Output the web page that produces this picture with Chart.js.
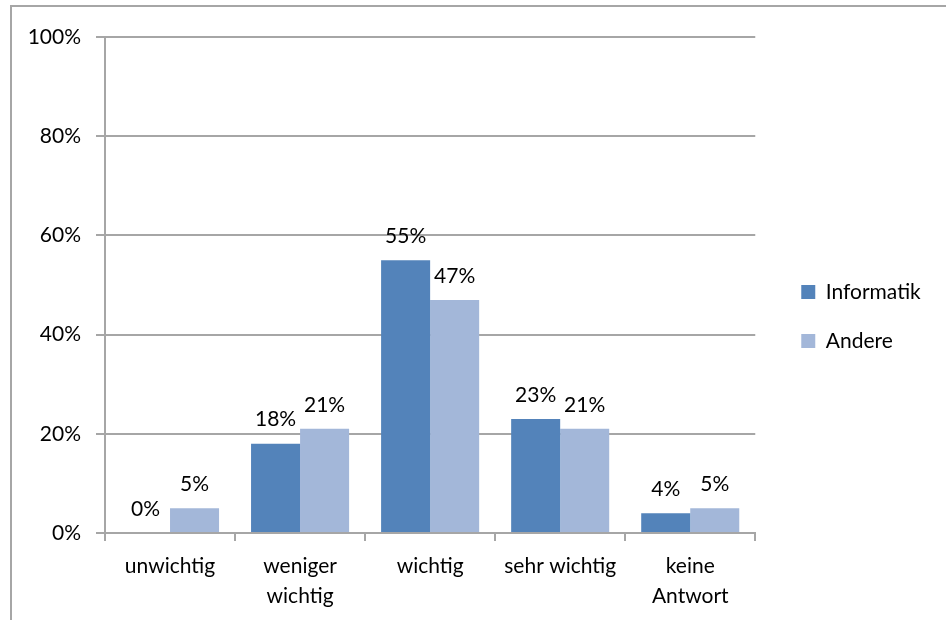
<!DOCTYPE html>
<html>
<head>
<meta charset="utf-8">
<script src="https://cdn.jsdelivr.net/npm/chart.js@4/dist/chart.umd.min.js"></script>
<style>
  html,body{margin:0;padding:0;background:#fff;overflow:hidden}
  #frame{position:absolute;left:10px;top:5px;width:934px;height:613px;border:2px solid #a6a6a6;border-right:none;border-bottom:none}
  #frame canvas{display:block}
</style>
</head>
<body>
<div id="frame"><canvas id="ch"></canvas></div>
<script>
/* ---------- Daten ---------- */
const categories=['unwichtig',['weniger','wichtig'],'wichtig','sehr wichtig',['keine','Antwort']];
const informatik=[0,18,55,23,4];
const andere=[5,21,47,21,5];
const yTicks=[0,20,40,60,80,100];

const FONT={family:'Lato, "Open Sans", sans-serif',size:21};
const GRID='#a6a6a6';

/* Legendenbreite messen, damit die Plotfläche rechts bei ~743px endet */
const mctx=document.createElement('canvas').getContext('2d');
mctx.font=`${FONT.size}px ${FONT.family}`;
const tw=Math.max(mctx.measureText('Informatik').width,mctx.measureText('Andere').width);
const LPAD=28;
const legendW=LPAD+14+FONT.size/2+tw+10;
const padRight=Math.max(0,934-761-legendW)+5;

/* Werte über den Balken */
const valueLabels={
  id:'valueLabels',
  afterDatasetsDraw(chart){
    const ctx=chart.ctx;
    ctx.save();
    ctx.font=`${FONT.size}px ${FONT.family}`;
    ctx.fillStyle='#000';
    ctx.textAlign='center';
    ctx.textBaseline='middle';
    chart.data.datasets.forEach((ds,i)=>{
      chart.getDatasetMeta(i).data.forEach((bar,j)=>{
        ctx.fillText(ds.data[j]+'%',bar.x,bar.y-24);
      });
    });
    ctx.restore();
  }
};

new Chart(document.getElementById('ch'),{
  type:'bar',
  data:{labels:categories,datasets:[
    {label:'Informatik',data:informatik,backgroundColor:'#5383ba',borderWidth:0,categoryPercentage:0.754,barPercentage:1},
    {label:'Andere',data:andere,backgroundColor:'#a3b7d9',borderWidth:0,categoryPercentage:0.754,barPercentage:1}
  ]},
  options:{
    responsive:true,maintainAspectRatio:false,animation:false,
    layout:{padding:{top:6,left:0,right:padRight,bottom:0}},
    plugins:{
      // leerer Titel nur als Abstand oberhalb der Plotfläche
      title:{display:true,text:' ',fullSize:false,padding:0,font:{size:20,lineHeight:1.2}},
      legend:{position:'right',labels:{color:'#000',font:FONT,boxWidth:14,boxHeight:14,padding:LPAD}},
      tooltip:{enabled:false}
    },
    scales:{
      x:{
        grid:{display:true,drawOnChartArea:false,color:GRID,lineWidth:2,tickLength:8,offset:true},
        border:{color:GRID,width:2},
        ticks:{color:'#000',font:{...FONT,lineHeight:1.4},padding:11,maxRotation:0,autoSkip:false},
        afterFit(s){s.height=87;}
      },
      y:{
        min:0,max:100,
        afterBuildTicks(s){s.ticks=yTicks.map(v=>({value:v}));},
        grid:{color:GRID,lineWidth:2,tickLength:9},
        border:{color:GRID,width:2},
        ticks:{color:'#000',font:FONT,padding:15,callback:v=>v+'%'},
        afterFit(s){s.width=93;}
      },
      yr:{
        position:'right',display:true,
        grid:{display:false},border:{display:false},ticks:{display:false},
        afterFit(s){s.width=18;}
      }
    }
  },
  plugins:[valueLabels]
});
</script>
</body>
</html>
